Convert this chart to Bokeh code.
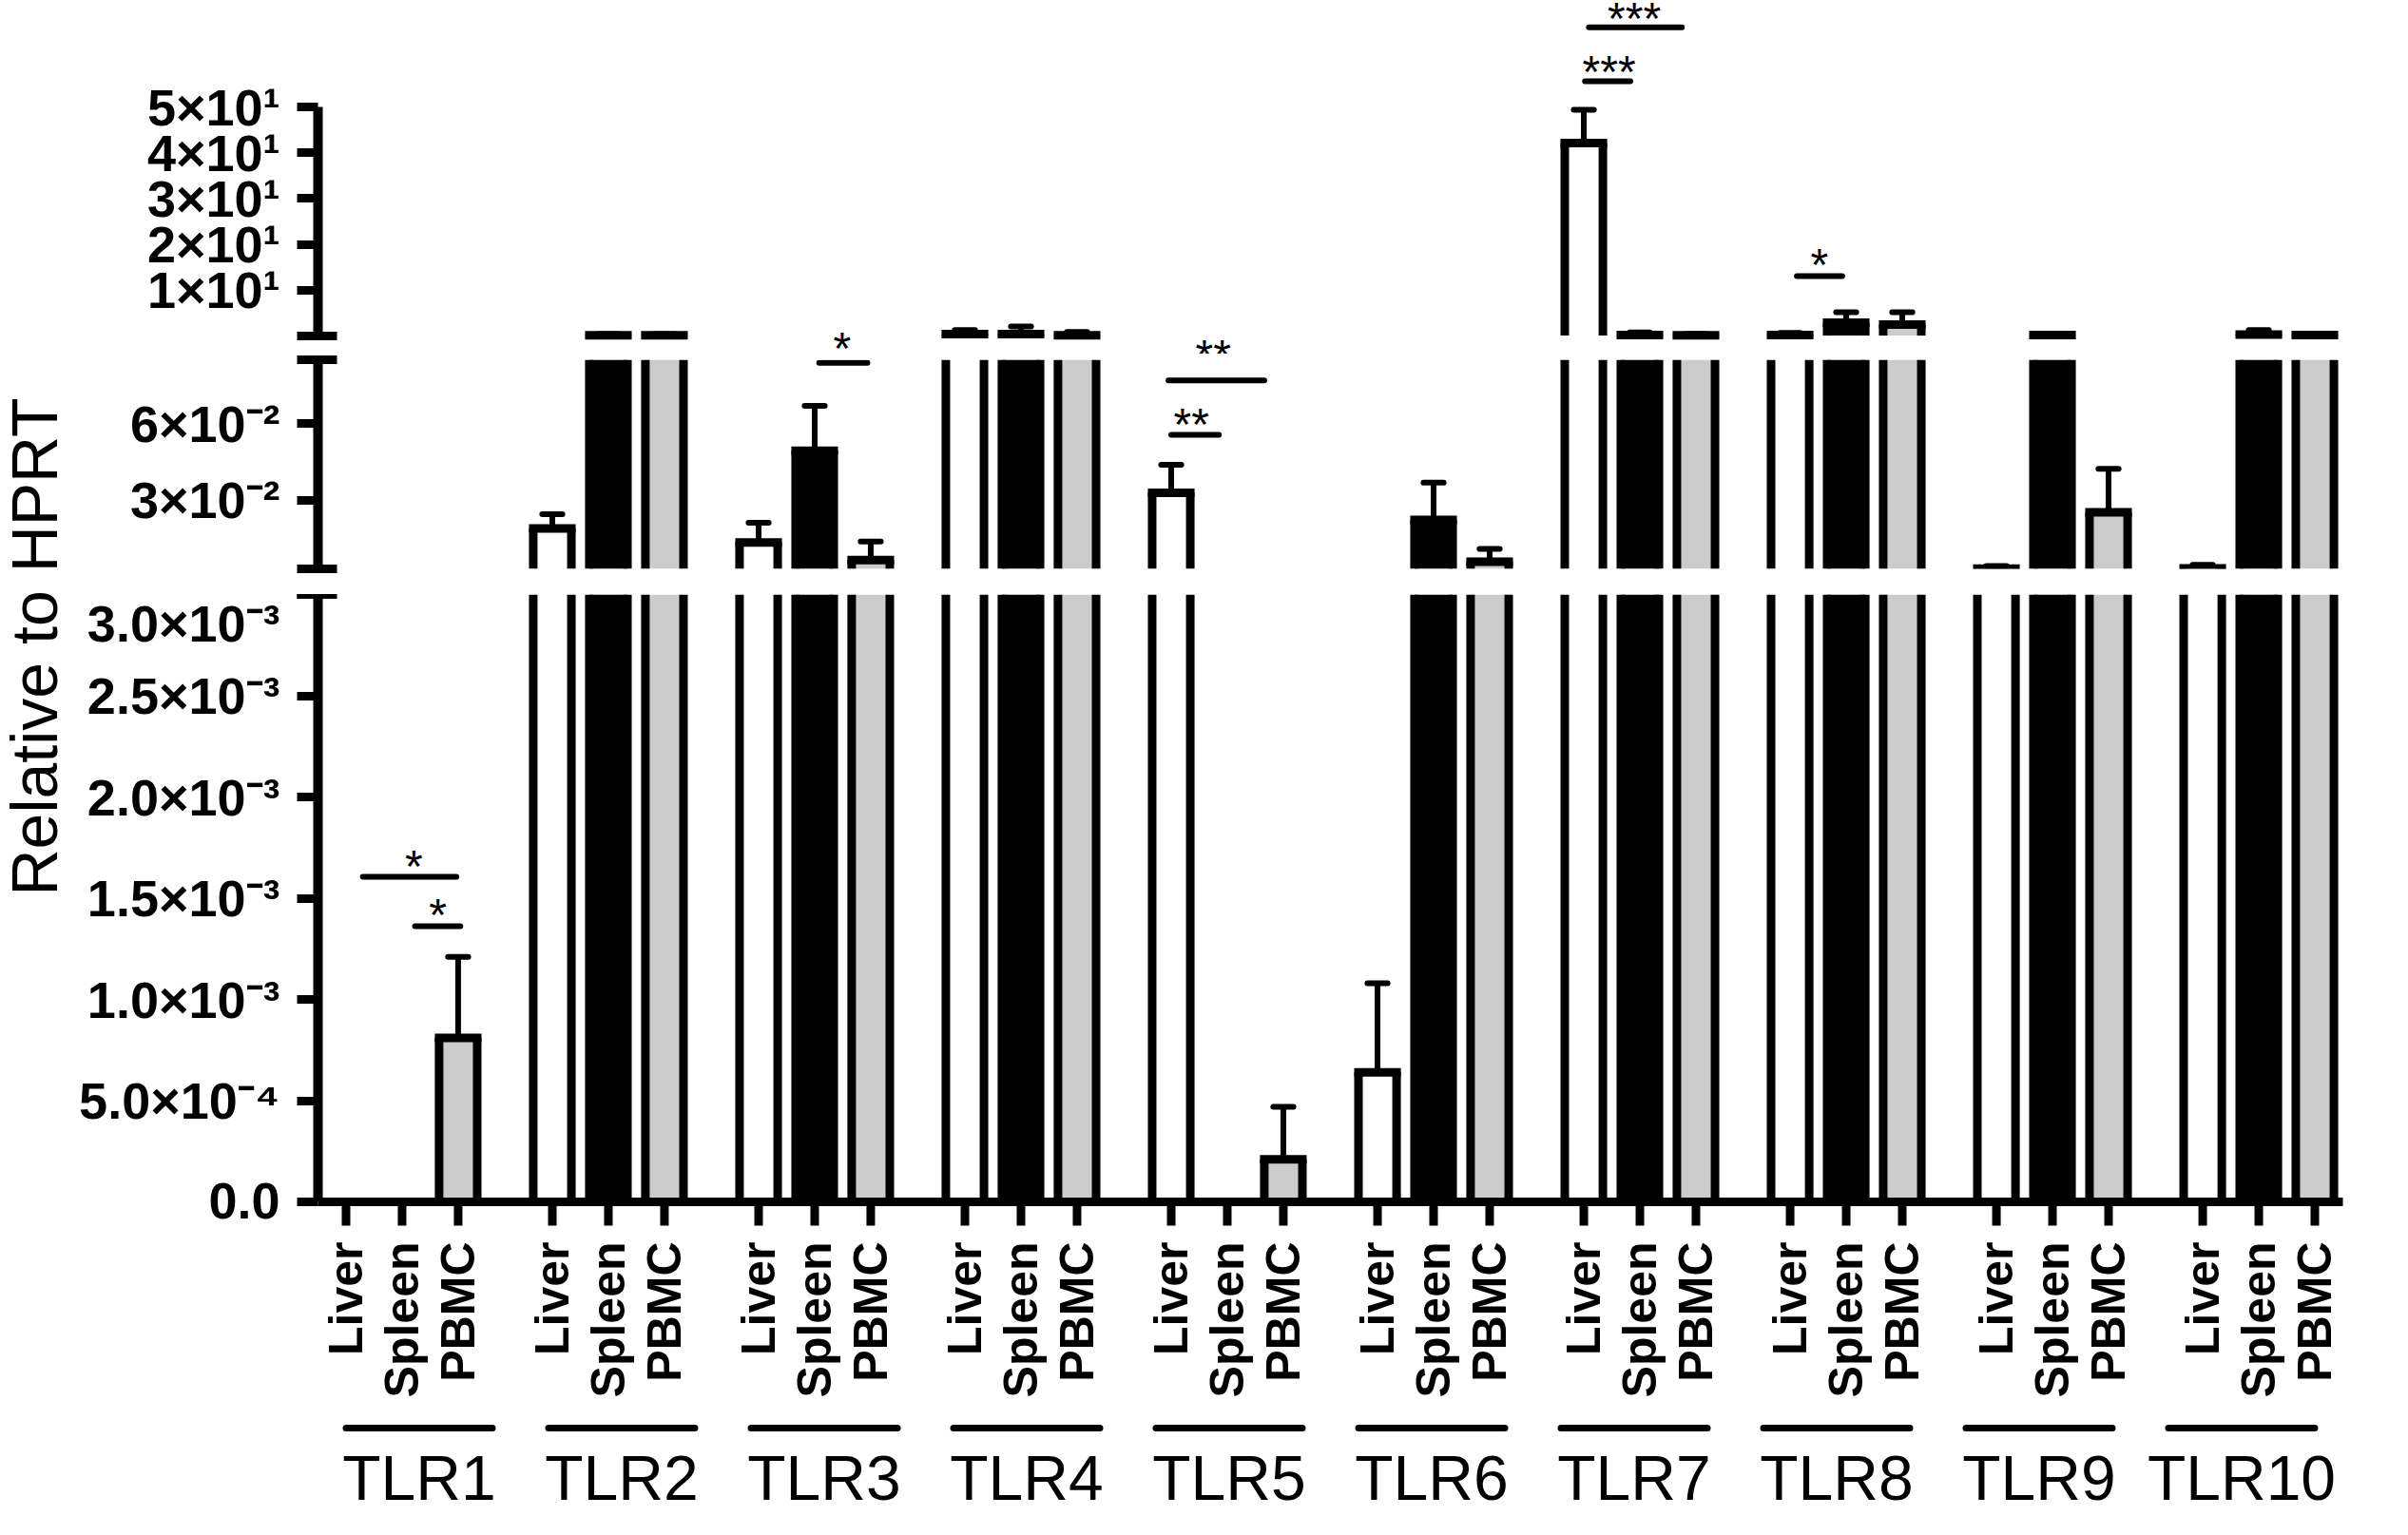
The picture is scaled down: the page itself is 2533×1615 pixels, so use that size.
import math
from bokeh.plotting import figure
from bokeh.models import ColumnDataSource, FactorRange, Range1d, FixedTicker
from bokeh.layouts import row, column
from bokeh.core.properties import value
from bokeh.embed import file_html
from bokeh.resources import INLINE

# ---------------- data ----------------
tlrs = ["TLR1", "TLR2", "TLR3", "TLR4", "TLR5", "TLR6", "TLR7", "TLR8", "TLR9", "TLR10"]
tissues = ["Liver", "Spleen", "PBMC"]

liver_mean = [0.0, 0.0188, 0.0133, 0.4, 0.0328, 0.00064, 42.1, 0.2, 0.0031, 0.0032]
liver_sem = [0.0, 0.0056, 0.0078, 0.9, 0.0110, 0.00044, 7.3, 0.5, 0.0010, 0.0014]
spleen_mean = [0.0, 0.15, 0.0493, 0.4, 0.0, 0.0222, 0.2, 2.9, 0.2, 0.3]
spleen_sem = [0.0, 0.25, 0.0176, 1.7, 0.0, 0.0146, 0.6, 2.3, 0.3, 1.0]
pbmc_mean = [0.00081, 0.15, 0.00643, 0.15, 0.00021, 0.0058, 0.15, 2.5, 0.0252, 0.2]
pbmc_sem = [0.00040, 0.25, 0.0073, 0.75, 0.00026, 0.0050, 0.3, 2.7, 0.0170, 0.2]

tissue_colors = {"Liver": "white", "Spleen": "black", "PBMC": "#cccccc"}

# broken y axis: three segments
top_ticks = [10, 20, 30, 40, 50]
top_labels = ["1×10¹", "2×10¹", "3×10¹", "4×10¹", "5×10¹"]
mid_ticks = [0.03, 0.06]
mid_labels = ["3×10⁻²", "6×10⁻²"]
bot_ticks = [0.0, 0.0005, 0.001, 0.0015, 0.002, 0.0025, 0.003]
bot_labels = ["0.0", "5.0×10⁻⁴", "1.0×10⁻³", "1.5×10⁻³", "2.0×10⁻³", "2.5×10⁻³", "3.0×10⁻³"]
seg_bot = (0.0, 0.003)
seg_mid = (0.003, 0.085)
seg_top = (0.085, 50)

# significance brackets
sig_tlr = ["TLR1", "TLR1", "TLR3", "TLR5", "TLR5", "TLR7", "TLR7", "TLR8"]
sig_from = [("Liver", 0.30), ("Spleen", 0.23), ("Spleen", 0.08), ("Liver", -0.05),
            ("Liver", 0.0), ("Liver", 0.09), ("Liver", 0.02), ("Liver", 0.12)]
sig_to = [("PBMC", -0.03), ("PBMC", 0.04), ("PBMC", -0.06), ("PBMC", -0.34),
          ("Spleen", -0.15), ("PBMC", -0.25), ("Spleen", -0.17), ("Spleen", -0.07)]
sig_y = [0.001606, 0.001362, 0.0838, 0.0769, 0.0556, 67.4, 55.6, 13.07]
sig_panel = ["bot", "bot", "mid", "mid", "mid", "top", "top", "top"]

star_tlr = ["TLR1", "TLR1", "TLR3", "TLR5", "TLR5", "TLR7", "TLR7", "TLR8"]
star_at = [("Spleen", 0.21), ("Spleen", 0.64), ("Spleen", 0.49), ("Spleen", -0.25),
           ("Spleen", -0.64), ("Spleen", -0.10), ("Spleen", -0.55), ("Liver", 0.52)]
star_y = [0.001709, 0.00147, -0.41, -2.07, 0.0638, 71.58, 59.96, 17.84]
star_text = ["*", "*", "*", "**", "**", "***", "***", "*"]
star_panel = ["bot", "bot", "top", "top", "mid", "top", "top", "top"]

# ---------------- layout constants (pixels) ----------------
FONT = "Liberation Sans"
LEFT = 251
RIGHT = 20
FRAME_W = 2133
FIG_W = LEFT + FRAME_W + RIGHT
GROUP_PAD = 0.68
BAR_W = 0.68
CAP_HALF = 0.18

Y_TOP0, Y_TOP1 = 8, 380            # top panel (frame = canvas)
Y_MID0, Y_MID1 = 386, 606          # middle frame; canvas 380 .. 633
Y_BOT0, Y_BOT1 = 633, 1300         # bottom panel (frame = canvas)
Y_TIS1 = 1490                      # tissue-label panel 1300 .. 1490
Y_PAGE = 1607                      # TLR-label panel 1490 .. 1607
PX_TOP_ZERO, PXU_TOP = 361, 4.82
PX_BOT_ZERO, PXU_BOT = 1272, 213000

top_view = ((PX_TOP_ZERO - Y_TOP1) / PXU_TOP, (PX_TOP_ZERO - Y_TOP0) / PXU_TOP)
bot_view = ((PX_BOT_ZERO - Y_BOT1) / PXU_BOT, seg_bot[1])

factors = [(t, s) for t in tlrs for s in tissues]
xr = FactorRange(factors=factors, factor_padding=0, group_padding=GROUP_PAD, range_padding=0)
n_units = len(factors) + (len(tlrs) - 1) * GROUP_PAD
slot = FRAME_W / n_units
group_px = (len(tissues) + GROUP_PAD) * slot
# one-level range of the groups, laid out so that group centres coincide
xr_groups = FactorRange(factors=tlrs, range_padding=0)
grp_left = int(round(LEFT + 1.5 * slot - 0.5 * group_px))
grp_frame = int(round(len(tlrs) * group_px))

means, sems = [], []
for trio_m, trio_s in zip(zip(liver_mean, spleen_mean, pbmc_mean), zip(liver_sem, spleen_sem, pbmc_sem)):
    means.extend(trio_m)
    sems.extend(trio_s)


def segment_sources(lo, hi):
    """Bars, outlines and error bars restricted to one axis segment."""
    fill = dict(x=[], top=[], bottom=[], color=[])
    sides = dict(x=[], y0=[], y1=[])
    tops = dict(x0=[], x1=[], y=[])
    stems = dict(x=[], y0=[], y1=[])
    caps = dict(x0=[], x1=[], y=[])
    for (t, s), m, e in zip(factors, means, sems):
        if m > lo:
            ytop = min(m, hi)
            fill["x"].append((t, s)); fill["top"].append(ytop)
            fill["bottom"].append(lo); fill["color"].append(tissue_colors[s])
            for side in (-BAR_W / 2, BAR_W / 2):
                sides["x"].append((t, s, side)); sides["y0"].append(lo); sides["y1"].append(ytop)
            if m <= hi:
                tops["x0"].append((t, s, -BAR_W / 2)); tops["x1"].append((t, s, BAR_W / 2))
                tops["y"].append(m)
        u = m + e
        if e > 0 and u > lo and m < hi:
            stems["x"].append((t, s)); stems["y0"].append(max(m, lo)); stems["y1"].append(min(u, hi))
            if u <= hi:
                caps["x0"].append((t, s, -CAP_HALF)); caps["x1"].append((t, s, CAP_HALF))
                caps["y"].append(u)
    return [ColumnDataSource(d) for d in (fill, sides, tops, stems, caps)]


def seg_figure(height, y_range, border_top=0, border_bottom=0):
    p = figure(x_range=xr, y_range=y_range, width=FIG_W, height=height,
               output_backend="svg", toolbar_location=None, x_axis_location=None,
               min_border_left=LEFT, min_border_right=RIGHT,
               min_border_top=border_top, min_border_bottom=border_bottom)
    p.grid.visible = False
    p.outline_line_color = None
    p.background_fill_color = "white"
    p.border_fill_color = "white"
    return p


def style_yaxis(p, ticks, labels, minor, bounds):
    ax = p.yaxis[0]
    ax.ticker = FixedTicker(ticks=ticks, minor_ticks=minor)
    ax.major_label_overrides = dict(zip(ticks, labels))
    ax.bounds = bounds
    ax.axis_line_width = 10
    ax.axis_line_color = "black"
    ax.major_tick_line_width = 9
    ax.major_tick_line_color = "black"
    ax.major_tick_out = 22
    ax.major_tick_in = 0
    ax.minor_tick_line_width = 9
    ax.minor_tick_line_color = "black"
    ax.minor_tick_out = 22
    ax.minor_tick_in = 20
    ax.major_label_text_font = FONT
    ax.major_label_text_font_style = "bold"
    ax.major_label_text_font_size = "54px"
    ax.major_label_text_color = "black"
    ax.major_label_standoff = 18


def draw_bars(p, lo, hi):
    fill, sides, tops, stems, caps = segment_sources(lo, hi)
    p.vbar(x="x", top="top", bottom="bottom", width=BAR_W, fill_color="color",
           line_color=None, source=fill)
    p.segment(x0="x", y0="y0", x1="x", y1="y1", line_color="black", line_width=9,
              line_cap="butt", source=sides)
    p.segment(x0="x0", y0="y", x1="x1", y1="y", line_color="black", line_width=9,
              line_cap="square", source=tops)
    p.segment(x0="x", y0="y0", x1="x", y1="y1", line_color="black", line_width=6,
              source=stems)
    p.segment(x0="x0", y0="y", x1="x1", y1="y", line_color="black", line_width=6,
              line_cap="round", source=caps)


def draw_sig(p, panel):
    idx = [i for i, pn in enumerate(sig_panel) if pn == panel]
    if idx:
        src = ColumnDataSource(dict(
            x0=[(sig_tlr[i], sig_from[i][0], sig_from[i][1]) for i in idx],
            x1=[(sig_tlr[i], sig_to[i][0], sig_to[i][1]) for i in idx],
            y=[sig_y[i] for i in idx]))
        p.segment(x0="x0", y0="y", x1="x1", y1="y", line_color="black", line_width=6,
                  line_cap="round", source=src)
    idx = [i for i, pn in enumerate(star_panel) if pn == panel]
    if idx:
        src = ColumnDataSource(dict(
            x=[(star_tlr[i], star_at[i][0], star_at[i][1]) for i in idx],
            y=[star_y[i] for i in idx],
            text=[star_text[i] for i in idx]))
        p.text(x="x", y="y", text="text", source=src, text_font=value(FONT),
               text_font_size="48px", text_align="center", text_baseline="middle",
               y_offset=11, text_color="black")


# ---------------- top panel ----------------
pt = seg_figure(Y_TOP1 - Y_TOP0, Range1d(*top_view))
style_yaxis(pt, top_ticks, top_labels, [seg_top[0]], seg_top)
draw_bars(pt, seg_top[0], top_view[1])
draw_sig(pt, "top")

# ---------------- middle panel ----------------
pm = seg_figure(Y_BOT0 - Y_TOP1, Range1d(*seg_mid), border_top=Y_MID0 - Y_TOP1,
                border_bottom=Y_BOT0 - Y_MID1)
style_yaxis(pm, mid_ticks, mid_labels, [seg_mid[0], seg_mid[1]], seg_mid)
draw_bars(pm, seg_mid[0], seg_mid[1])
draw_sig(pm, "mid")

# ---------------- bottom panel (with x axis line and ticks) ----------------
pb = seg_figure(Y_BOT1 - Y_BOT0, Range1d(*bot_view))
style_yaxis(pb, bot_ticks, bot_labels, [seg_bot[1]], seg_bot)
draw_bars(pb, seg_bot[0], seg_bot[1])
draw_sig(pb, "bot")
axis_src = ColumnDataSource(dict(x0=[(tlrs[0], tissues[0], -0.6)],
                                 x1=[(tlrs[-1], tissues[-1], 0.6)], y=[seg_bot[0]]))
pb.segment(x0="x0", y0="y", x1="x1", y1="y", line_color="black", line_width=9, source=axis_src)
tick_src = ColumnDataSource(dict(x=factors))
pb.segment(x0="x", y0=seg_bot[0], x1="x", y1=seg_bot[0] - 25 / PXU_BOT, line_color="black",
           line_width=9, source=tick_src)

# ---------------- tissue label panel ----------------
ps = figure(x_range=xr, y_range=Range1d(Y_TIS1, Y_BOT1), width=FIG_W, height=Y_TIS1 - Y_BOT1,
            output_backend="svg", toolbar_location=None, x_axis_location=None,
            y_axis_location=None, min_border_left=LEFT, min_border_right=RIGHT,
            min_border_top=0, min_border_bottom=0)
ps.grid.visible = False
ps.outline_line_color = None
tissue_src = ColumnDataSource(dict(x=factors, text=[s for (_, s) in factors]))
ps.text(x="x", y=1314, text="text", source=tissue_src, angle=math.pi / 2,
        text_align="right", text_baseline="middle", text_font=value(FONT),
        text_font_style="bold", text_font_size="50px", text_color="black")

# ---------------- TLR label panel ----------------
pg = figure(x_range=xr_groups, y_range=Range1d(Y_PAGE, Y_TIS1), width=grp_left + grp_frame,
            height=Y_PAGE - Y_TIS1, output_backend="svg", toolbar_location=None,
            x_axis_location=None, y_axis_location=None, min_border_left=grp_left,
            min_border_right=0, min_border_top=0, min_border_bottom=0)
pg.grid.visible = False
pg.outline_line_color = None
half = 1.33 * slot / group_px
group_src = ColumnDataSource(dict(x0=[(t, -half) for t in tlrs], x1=[(t, half) for t in tlrs],
                                  x=tlrs, text=tlrs))
pg.segment(x0="x0", y0=1510, x1="x1", y1=1510, line_color="black", line_width=7,
           line_cap="round", source=group_src)
pg.text(x="x", y=1562, text="text", source=group_src, text_align="center",
        text_baseline="middle", text_font=value(FONT), text_font_size="66px",
        text_color="black")

# ---------------- y-axis title panel ----------------
ptitle = figure(x_range=Range1d(8, 88), y_range=Range1d(Y_PAGE, 8), width=80,
                height=Y_PAGE - 8, output_backend="svg", toolbar_location=None,
                x_axis_location=None, y_axis_location=None, min_border=0)
ptitle.grid.visible = False
ptitle.outline_line_color = None
ptitle.text(x=[43], y=[688], text=["Relative to HPRT"], angle=math.pi / 2,
            text_align="center", text_baseline="middle", text_font=value(FONT),
            text_font_size="68px", text_color="black")

layout = row(ptitle, column(pt, pm, pb, ps, pg, spacing=0), spacing=0)

with open("out.html", "w") as f:
    f.write(file_html(layout, INLINE))
